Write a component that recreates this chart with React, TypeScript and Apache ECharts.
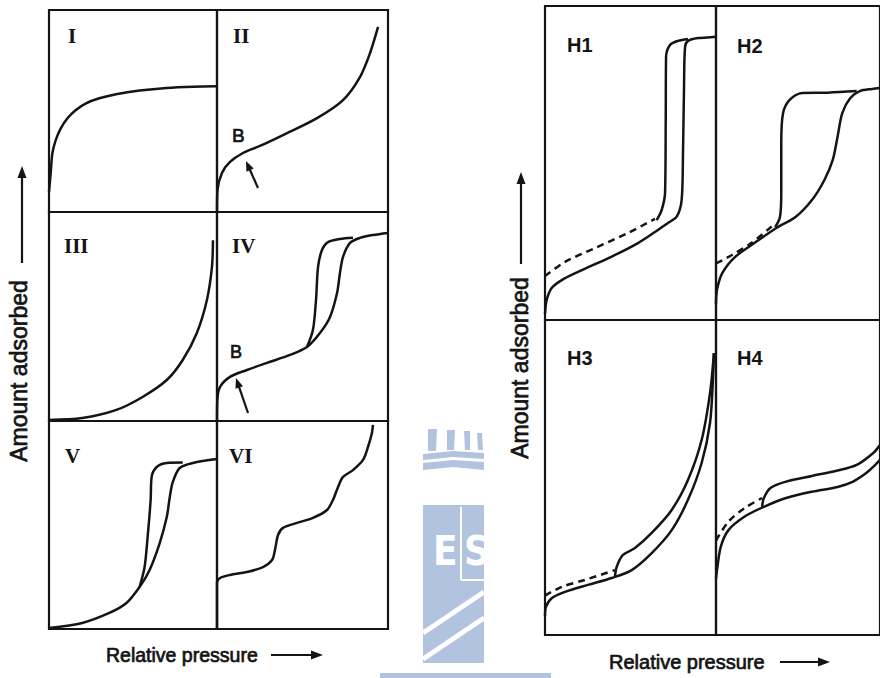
import React, { useEffect, useRef } from "react";
import * as echarts from "echarts";

// ---- Isotherm types (relative pressure 0..1 vs amount adsorbed 0..1, per panel) ----
const typeI = [[0, 0.1], [0.01, 0.192], [0.02, 0.291], [0.04, 0.356], [0.07, 0.414], [0.11, 0.464], [0.16, 0.505], [0.22, 0.538], [0.299, 0.563], [0.399, 0.583], [0.539, 0.601], [0.699, 0.614], [0.858, 0.62], [1.0, 0.622]];
const typeII = [[0, 0], [0.003, 0.109], [0.029, 0.193], [0.076, 0.248], [0.152, 0.292], [0.251, 0.327], [0.386, 0.381], [0.585, 0.465], [0.737, 0.554], [0.836, 0.668], [0.895, 0.787], [0.942, 0.916]];
const typeIII = [[0, 0.005], [0.198, 0.014], [0.401, 0.053], [0.557, 0.115], [0.701, 0.196], [0.796, 0.292], [0.88, 0.421], [0.94, 0.579], [0.97, 0.737], [0.976, 0.865]];
const typeIVAds = [[0, 0], [0.002, 0.1], [0.018, 0.163], [0.076, 0.211], [0.175, 0.244], [0.292, 0.278], [0.427, 0.316], [0.526, 0.354], [0.602, 0.421], [0.661, 0.498], [0.702, 0.612], [0.719, 0.708], [0.737, 0.785], [0.778, 0.852], [0.836, 0.876], [0.912, 0.89], [1.0, 0.9]];
const typeIVDes = [[0.526, 0.354], [0.561, 0.435], [0.579, 0.579], [0.591, 0.737], [0.614, 0.818], [0.649, 0.856], [0.719, 0.871], [0.795, 0.877]];
const typeVAds = [[0, 0.005], [0.198, 0.029], [0.359, 0.077], [0.461, 0.125], [0.539, 0.202], [0.599, 0.284], [0.659, 0.413], [0.701, 0.538], [0.719, 0.635], [0.737, 0.707], [0.778, 0.774], [0.856, 0.798], [1.0, 0.817]];
const typeVDes = [[0.539, 0.202], [0.569, 0.298], [0.587, 0.442], [0.605, 0.62], [0.611, 0.731], [0.641, 0.779], [0.701, 0.798], [0.796, 0.8]];
const typeVI = [[0, 0], [0, 0.221], [0.018, 0.245], [0.076, 0.26], [0.175, 0.274], [0.269, 0.298], [0.322, 0.332], [0.339, 0.38], [0.357, 0.452], [0.386, 0.486], [0.468, 0.51], [0.561, 0.534], [0.643, 0.572], [0.678, 0.62], [0.708, 0.683], [0.737, 0.731], [0.795, 0.764], [0.854, 0.813], [0.883, 0.875], [0.906, 0.942], [0.912, 0.981]];

// ---- Hysteresis loops ----
const h1Ads = [[0, 0.02], [0.01, 0.064], [0.039, 0.102], [0.098, 0.127], [0.193, 0.153], [0.39, 0.202], [0.544, 0.245], [0.643, 0.28], [0.719, 0.309], [0.77, 0.329], [0.799, 0.382], [0.807, 0.532], [0.813, 0.742], [0.819, 0.869], [0.836, 0.889], [0.895, 0.898], [0.982, 0.901], [1.0, 0.903]];
const h1Des = [[0.653, 0.318], [0.682, 0.35], [0.702, 0.404], [0.706, 0.637], [0.708, 0.838], [0.731, 0.876], [0.778, 0.889], [0.836, 0.895]];
const h1Dash = [[0, 0.14], [0.117, 0.185], [0.292, 0.229], [0.485, 0.277], [0.643, 0.322]];
const h2Ads = [[0, 0.05], [0.006, 0.096], [0.039, 0.15], [0.117, 0.201], [0.234, 0.245], [0.368, 0.293], [0.485, 0.328], [0.585, 0.382], [0.661, 0.446], [0.712, 0.51], [0.741, 0.583], [0.77, 0.659], [0.819, 0.707], [0.877, 0.729], [0.953, 0.736], [1.0, 0.739]];
const h2Des = [[0.361, 0.296], [0.39, 0.328], [0.398, 0.404], [0.398, 0.564], [0.409, 0.659], [0.449, 0.701], [0.526, 0.723], [0.682, 0.724], [0.858, 0.729]];
const h2Dash = [[0, 0.18], [0.098, 0.207], [0.215, 0.245], [0.351, 0.303]];
const h3Ads = [[0, 0.06], [0.006, 0.09], [0.039, 0.117], [0.117, 0.137], [0.251, 0.159], [0.39, 0.181], [0.507, 0.206], [0.624, 0.26], [0.741, 0.333], [0.836, 0.429], [0.916, 0.546], [0.965, 0.673], [0.982, 0.81], [0.988, 0.895]];
const h3Des = [[0.409, 0.184], [0.419, 0.216], [0.456, 0.254], [0.526, 0.276], [0.624, 0.324], [0.741, 0.397], [0.836, 0.492], [0.916, 0.619], [0.965, 0.768], [0.988, 0.895]];
const h3Dash = [[0, 0.125], [0.098, 0.153], [0.234, 0.175], [0.409, 0.206]];
const h4Ads = [[0, 0.18], [0.006, 0.206], [0.029, 0.28], [0.076, 0.333], [0.175, 0.376], [0.292, 0.407], [0.427, 0.435], [0.585, 0.455], [0.741, 0.47], [0.836, 0.487], [0.916, 0.514], [0.959, 0.534], [1.0, 0.556]];
const h4Des = [[0.281, 0.407], [0.292, 0.435], [0.332, 0.467], [0.427, 0.487], [0.585, 0.505], [0.741, 0.522], [0.858, 0.54], [0.959, 0.578], [1.0, 0.603]];
const h4Dash = [[0, 0.3], [0.076, 0.36], [0.175, 0.403], [0.281, 0.435]];

const typeLabels = ["I", "II", "III", "IV", "V", "VI"];
const loopLabels = ["H1", "H2", "H3", "H4"];
const yTitle = "Amount adsorbed";
const xTitle = "Relative pressure";

type Curve = { d: number[][]; dashed?: boolean };

const INK = "#141414";
const WM = "#b1c3df";

function arrowHead(tipX: number, tipY: number, tailX: number, tailY: number, len: number, half: number) {
  const dx = tipX - tailX, dy = tipY - tailY;
  const L = Math.hypot(dx, dy);
  const ux = dx / L, uy = dy / L;
  const bx = tipX - ux * len, by = tipY - uy * len;
  return [[tipX, tipY], [bx - uy * half, by + ux * half], [bx + uy * half, by - ux * half]];
}

function arrow(tipX: number, tipY: number, tailX: number, tailY: number, len = 11, half = 4.5, w = 2.2) {
  const dx = tipX - tailX, dy = tipY - tailY;
  const L = Math.hypot(dx, dy);
  const ex = tipX - (dx / L) * (len - 2), ey = tipY - (dy / L) * (len - 2);
  return [
    { type: "line", shape: { x1: tailX, y1: tailY, x2: ex, y2: ey }, style: { stroke: INK, lineWidth: w } },
    { type: "polygon", shape: { points: arrowHead(tipX, tipY, tailX, tailY, len, half) }, style: { fill: INK } },
  ];
}

export default function App() {
  const ref = useRef<HTMLDivElement>(null);
  useEffect(() => {
    if (!ref.current) return;
    const chart = echarts.init(ref.current, undefined, { renderer: "svg" });

    const cells: { x: number; y: number; w: number; h: number; curves: Curve[] }[] = [
      { x: 49, y: 10, w: 168, h: 202, curves: [{ d: typeI }] },
      { x: 217, y: 10, w: 171, h: 202, curves: [{ d: typeII }] },
      { x: 49, y: 212, w: 168, h: 209, curves: [{ d: typeIII }] },
      { x: 217, y: 212, w: 171, h: 209, curves: [{ d: typeIVAds }, { d: typeIVDes }] },
      { x: 49, y: 421, w: 168, h: 208, curves: [{ d: typeVAds }, { d: typeVDes }] },
      { x: 217, y: 421, w: 171, h: 208, curves: [{ d: typeVI }] },
      { x: 545, y: 6, w: 171, h: 314, curves: [{ d: h1Ads }, { d: h1Des }, { d: h1Dash, dashed: true }] },
      { x: 716, y: 6, w: 171, h: 314, curves: [{ d: h2Ads }, { d: h2Des }, { d: h2Dash, dashed: true }] },
      { x: 545, y: 320, w: 171, h: 315, curves: [{ d: h3Ads }, { d: h3Des }, { d: h3Dash, dashed: true }] },
      { x: 716, y: 320, w: 171, h: 315, curves: [{ d: h4Ads }, { d: h4Des }, { d: h4Dash, dashed: true }] },
    ];

    const grid = cells.map((c) => ({
      left: c.x, top: c.y, width: c.w, height: c.h,
      show: true, borderColor: INK, borderWidth: 2.2, backgroundColor: "transparent",
      containLabel: false,
    }));
    const xAxis = cells.map((_, i) => ({ type: "value", gridIndex: i, min: 0, max: 1, show: false }));
    const yAxis = cells.map((_, i) => ({ type: "value", gridIndex: i, min: 0, max: 1, show: false }));
    const series: any[] = [];
    cells.forEach((c, i) => {
      c.curves.forEach((cv) => {
        series.push({
          type: "line", xAxisIndex: i, yAxisIndex: i, data: cv.d,
          smooth: 0.3, symbol: "none", showSymbol: false, silent: true, clip: true,
          lineStyle: { color: INK, width: 2.5, type: cv.dashed ? [7, 5] : "solid" },
        });
      });
    });

    const romanPos = [[68, 36], [233, 36], [64, 246], [232, 246], [65, 456], [229, 456]];
    const hPos = [[567, 45], [737, 46], [567, 358], [737, 358]];
    const thick = { stroke: INK, lineWidth: 0.7 };

    const graphic: any[] = [];
    // watermark
    graphic.push(
      { type: "rect", shape: { x: 423, y: 505, width: 61, height: 158 }, style: { fill: WM } },
      { type: "rect", shape: { x: 380, y: 673, width: 171, height: 5 }, style: { fill: WM } },
      { type: "polygon", shape: { points: [[428, 429], [437, 429], [436, 451], [428, 451]] }, style: { fill: WM } },
      { type: "polygon", shape: { points: [[447, 430], [455, 430], [454, 450], [447, 450]] }, style: { fill: WM } },
      { type: "polygon", shape: { points: [[464, 431], [470, 431], [470, 450], [465, 450]] }, style: { fill: WM } },
      { type: "polygon", shape: { points: [[477, 433], [482, 433], [483, 450], [478, 450]] }, style: { fill: WM } },
      { type: "polygon", shape: { points: [[423, 454], [453, 451], [484, 453], [484, 459], [453, 457], [423, 460]] }, style: { fill: WM } },
      { type: "polygon", shape: { points: [[423, 463], [453, 460], [484, 462], [484, 470], [453, 467], [423, 470]] }, style: { fill: WM } },
      { type: "text", style: { x: 433, y: 551, text: "E", fill: "#fff", font: "bold 40px 'DejaVu Sans Condensed', 'DejaVu Sans'", textAlign: "left", textVerticalAlign: "middle" } },
      { type: "line", shape: { x1: 461, y1: 507, x2: 461, y2: 580 }, style: { stroke: "#fff", lineWidth: 2 } },
      { type: "line", shape: { x1: 461, y1: 580, x2: 484, y2: 580 }, style: { stroke: "#fff", lineWidth: 2 } },
      { type: "text", style: { x: 464, y: 551, text: "S", fill: "#fff", font: "bold 40px 'DejaVu Sans Condensed', 'DejaVu Sans'", textAlign: "left", textVerticalAlign: "middle" } },
      { type: "line", shape: { x1: 484, y1: 592, x2: 423, y2: 633 }, style: { stroke: "#fff", lineWidth: 5 } },
      { type: "line", shape: { x1: 484, y1: 618, x2: 423, y2: 659 }, style: { stroke: "#fff", lineWidth: 5 } },
    );
    typeLabels.forEach((t, i) => {
      graphic.push({ type: "text", style: { x: romanPos[i][0], y: romanPos[i][1], text: t, fill: INK, font: "bold 21px 'Liberation Serif'", textAlign: "left", textVerticalAlign: "middle" } });
    });
    loopLabels.forEach((t, i) => {
      graphic.push({ type: "text", style: { x: hPos[i][0], y: hPos[i][1], text: t, fill: INK, font: "bold 20px 'Liberation Sans'", textAlign: "left", textVerticalAlign: "middle" } });
    });
    graphic.push(
      { type: "text", style: { x: 232, y: 135, text: "B", fill: INK, font: "19px 'Liberation Sans'", textAlign: "left", textVerticalAlign: "middle", ...thick } },
      { type: "text", style: { x: 230, y: 352, text: "B", fill: INK, font: "18px 'Liberation Sans'", textAlign: "left", textVerticalAlign: "middle", ...thick } },
      ...arrow(246, 161, 258, 188, 10, 4),
      ...arrow(236, 378, 248, 413, 10, 4),
      // axis titles
      { type: "text", x: 19, y: 371, rotation: Math.PI / 2, style: { x: 0, y: 0, text: yTitle, fill: INK, font: "23px 'Liberation Sans'", textAlign: "center", textVerticalAlign: "middle", ...thick } },
      ...arrow(22, 166, 22, 263, 12, 4.5),
      { type: "text", x: 520, y: 368, rotation: Math.PI / 2, style: { x: 0, y: 0, text: yTitle, fill: INK, font: "23px 'Liberation Sans'", textAlign: "center", textVerticalAlign: "middle", ...thick } },
      ...arrow(521, 172, 521, 264, 12, 4.5),
      { type: "text", style: { x: 106, y: 655, text: xTitle, fill: INK, font: "19.5px 'Liberation Sans'", textAlign: "left", textVerticalAlign: "middle", ...thick } },
      ...arrow(323, 655, 271, 655, 12, 4.5),
      { type: "text", style: { x: 609, y: 662, text: xTitle, fill: INK, font: "20px 'Liberation Sans'", textAlign: "left", textVerticalAlign: "middle", ...thick } },
      ...arrow(830, 662, 780, 662, 12, 4.5),
    );

    chart.setOption({
      animation: false,
      backgroundColor: "#ffffff",
      grid, xAxis, yAxis, series, graphic,
    });
    return () => chart.dispose();
  }, []);
  return (
    <div
      ref={ref}
      style={{ position: "fixed", left: 0, top: 0, width: 880, height: 678, background: "#fff" }}
    />
  );
}
